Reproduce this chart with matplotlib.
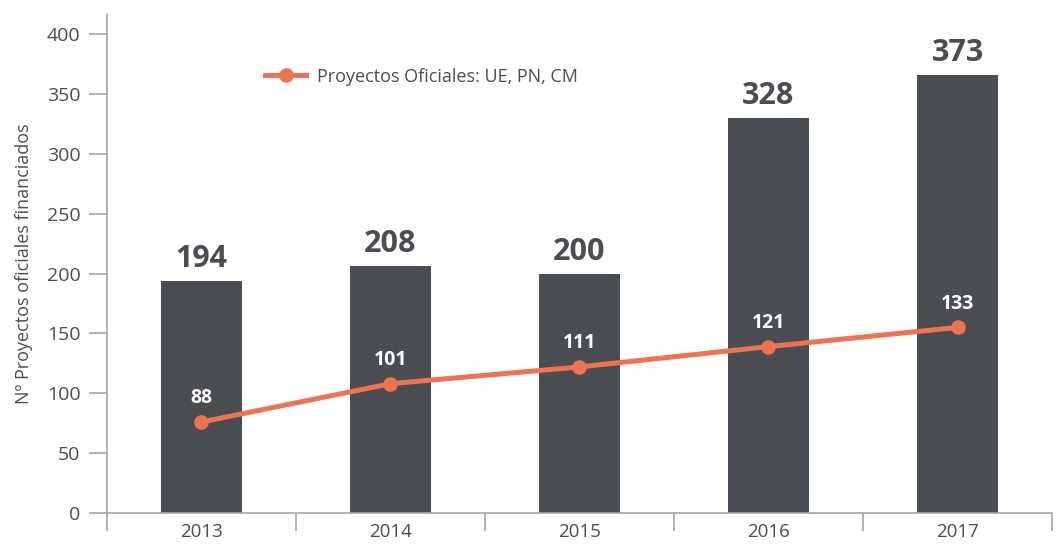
import matplotlib
matplotlib.use("Agg")
import matplotlib.pyplot as plt

years = ["2013", "2014", "2015", "2016", "2017"]
# altura de las barras tal y como se ven en el gráfico, y su etiqueta
bar_heights = [194, 206, 200, 330, 366]
bar_labels = ["194", "208", "200", "328", "373"]
# línea: posición dibujada y etiqueta
line_heights = [76, 108, 122, 139, 155]
line_labels = ["88", "101", "111", "121", "133"]
yticks = [0, 50, 100, 150, 200, 250, 300, 350, 400]

DARK = "#4a4d51"
ORANGE = "#ee7350"
AXIS = "#a6a6a6"

plt.rcParams["font.family"] = ["Open Sans", "DejaVu Sans"]

fig = plt.figure(figsize=(10.59, 5.44), dpi=100)
ax = fig.add_axes([0.101, 0.057, 0.8924, 0.917])

x = list(range(len(years)))
ax.bar(x, bar_heights, width=0.43, color=DARK, zorder=2)
for xi, h, lab in zip(x, bar_heights, bar_labels):
    ax.annotate(lab, (xi, h), xytext=(0, 5), textcoords="offset points",
                ha="center", va="bottom", fontsize=22, fontweight="bold", color=DARK)

ax.plot(x, line_heights, "-o", color=ORANGE, lw=3.6, ms=9.5, zorder=3,
        label="Proyectos Oficiales: UE, PN, CM")
for xi, h, lab in zip(x, line_heights, line_labels):
    ax.annotate(lab, (xi, h), xytext=(0, 10), textcoords="offset points",
                ha="center", va="bottom", fontsize=14, fontweight="bold", color="white")

ax.set_xlim(-0.5, 4.5)
ax.set_ylim(0, 416.7)
ax.set_yticks(yticks)
ax.set_xticks(x)
ax.set_xticklabels(years)
ax.set_xticks([i - 0.5 for i in range(len(years) + 1)], minor=True)
ax.tick_params(axis="x", which="major", length=0, pad=7, labelsize=13.5, labelcolor=DARK)
ax.tick_params(axis="x", which="minor", length=13, width=1.2, color=AXIS, direction="out")
ax.tick_params(axis="y", length=13, width=1.2, color=AXIS, pad=6, labelsize=14, labelcolor=DARK)

for s in ["top", "right"]:
    ax.spines[s].set_visible(False)
for s in ["left", "bottom"]:
    ax.spines[s].set_color(AXIS)
    ax.spines[s].set_linewidth(1.2)

ax.set_ylabel("Nº Proyectos oficiales financiados", fontsize=13, color=DARK, labelpad=10)

ax.legend(loc="upper left", bbox_to_anchor=(0.15, 0.925), frameon=False,
          fontsize=13, labelcolor=DARK, handlelength=2.3, handletextpad=0.6)

fig.savefig("out.png", dpi=100)
